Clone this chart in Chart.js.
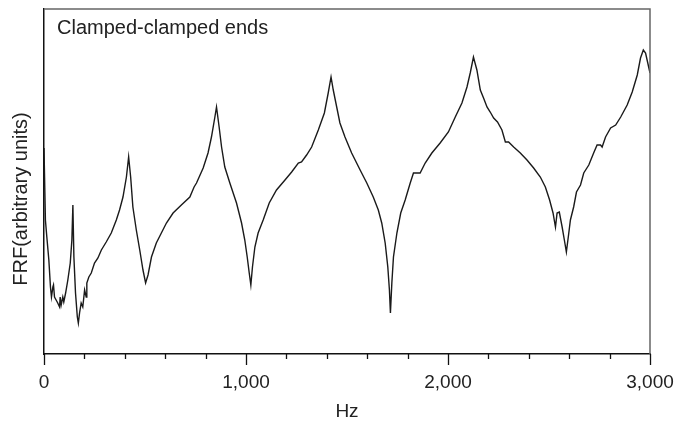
<!DOCTYPE html>
<html>
<head>
<meta charset="utf-8">
<script src="https://cdn.jsdelivr.net/npm/chart.js@4/dist/chart.umd.min.js"></script>
<style>
  html, body { margin: 0; padding: 0; background: #fff; }
  #wrap { width: 676px; height: 423px; }
</style>
</head>
<body>
<div id="wrap"><canvas id="frfChart" width="676" height="423"></canvas></div>
<script>
// frequency (Hz) and response level (arbitrary units)
var freqs = [0, 7, 14, 24, 32, 37, 44, 47, 52, 60, 68, 77, 80, 85, 93, 98, 107, 118, 130, 138,
  143, 148, 156, 165, 170, 176, 184, 192, 201, 209, 212, 222, 234, 250, 267, 284, 308, 333, 358, 374,
  391, 408, 419, 429, 440, 457, 474, 490, 503, 515, 532, 556, 581, 606, 639, 680, 722, 743, 755, 788,
  812, 829, 846, 854, 867, 879, 895, 920, 953, 978, 994, 1006, 1016, 1024, 1032, 1044, 1060, 1085, 1115, 1151,
  1193, 1226, 1259, 1275, 1300, 1325, 1358, 1388, 1407, 1421, 1432, 1449, 1465, 1490, 1523, 1565, 1598, 1630, 1655, 1672,
  1689, 1702, 1710, 1715, 1722, 1730, 1747, 1766, 1788, 1813, 1829, 1842, 1862, 1887, 1920, 1961, 2002, 2036, 2069, 2094,
  2110, 2126, 2143, 2160, 2176, 2193, 2209, 2226, 2245, 2267, 2284, 2300, 2325, 2358, 2391, 2424, 2457, 2482, 2503, 2520,
  2532, 2540, 2551, 2565, 2576, 2586, 2598, 2606, 2622, 2636, 2656, 2672, 2697, 2721, 2738, 2755, 2763, 2780, 2805, 2830,
  2855, 2887, 2912, 2937, 2953, 2967, 2978, 2989, 3000];
var levels = [206, 134, 117, 94, 67, 57, 67, 69, 57, 54, 51, 47, 57, 49, 57, 52, 61, 74, 91, 114,
  149, 97, 61, 37, 31, 41, 51, 47, 64, 57, 71, 77, 81, 91, 96, 104, 112, 121, 134, 144,
  157, 177, 197, 177, 147, 124, 104, 84, 71, 79, 97, 111, 121, 131, 141, 149, 157, 167, 171, 186,
  201, 217, 237, 247, 227, 207, 187, 171, 151, 131, 114, 97, 81, 69, 87, 107, 121, 134, 151, 164,
  174, 182, 191, 192, 199, 207, 224, 241, 261, 277, 264, 247, 231, 217, 201, 184, 171, 157, 144, 131,
  111, 87, 64, 41, 71, 97, 121, 141, 154, 171, 181, 181, 181, 191, 201, 211, 222, 237, 251, 267,
  281, 297, 284, 264, 256, 247, 242, 236, 232, 224, 212, 212, 207, 201, 194, 186, 177, 167, 154, 141,
  127, 141, 142, 127, 114, 102, 121, 134, 147, 162, 169, 181, 189, 201, 209, 209, 207, 217, 226, 229,
  237, 249, 262, 279, 296, 304, 301, 291, 281];
var majorTicks = [0, 1000, 2000, 3000];
var minorStep = 200;

var points = freqs.map(function (f, i) { return { x: f, y: levels[i] }; });

var textColor = '#222';
var fontFamily = '"Liberation Sans", Arial, Helvetica, sans-serif';

var extras = {
  id: 'extras',
  afterDraw: function (chart) {
    var c = chart.ctx, a = chart.chartArea, xs = chart.scales.x;
    c.save();
    // top and right frame lines
    c.strokeStyle = '#666';
    c.lineWidth = 1.5;
    c.beginPath();
    c.moveTo(a.left, a.top);
    c.lineTo(a.right, a.top);
    c.lineTo(a.right, a.bottom);
    c.stroke();
    // tick marks on the x axis
    c.strokeStyle = '#111';
    c.lineWidth = 1.3;
    for (var v = 0; v <= 3000; v += minorStep) {
      var px = Math.round(xs.getPixelForValue(v)) + 0.5;
      var len = majorTicks.indexOf(v) >= 0 ? 11 : 5;
      c.beginPath();
      c.moveTo(px, a.bottom);
      c.lineTo(px, a.bottom + len);
      c.stroke();
    }
    // panel label
    c.fillStyle = textColor;
    c.font = '20px ' + fontFamily;
    c.textBaseline = 'alphabetic';
    c.textAlign = 'left';
    c.fillText('Clamped-clamped ends', a.left + 13, 34);
    // y axis title
    c.translate(21, 199);
    c.rotate(-Math.PI / 2);
    c.textAlign = 'center';
    c.textBaseline = 'middle';
    c.fillText('FRF(arbitrary units)', 0, 0);
    c.restore();
  }
};

new Chart(document.getElementById('frfChart').getContext('2d'), {
  type: 'line',
  data: {
    datasets: [{
      data: points,
      borderColor: '#1a1a1a',
      borderWidth: 1.4,
      pointRadius: 0,
      tension: 0,
      fill: false
    }]
  },
  options: {
    responsive: false,
    animation: false,
    layout: { padding: { top: 9, right: 26, left: 0, bottom: 0 } },
    plugins: { legend: { display: false }, tooltip: { enabled: false } },
    scales: {
      x: {
        type: 'linear',
        min: 0,
        max: 3000,
        afterBuildTicks: function (scale) {
          scale.ticks = majorTicks.map(function (v) { return { value: v }; });
        },
        afterFit: function (scale) {
          scale.height = 69;
          scale.paddingLeft = 0;
          scale.paddingRight = 0;
        },
        ticks: {
          color: textColor,
          padding: 17,
          maxRotation: 0,
          font: { size: 19, family: fontFamily },
          callback: function (v) { return Number(v).toLocaleString('en-US'); }
        },
        grid: { display: false, drawTicks: false },
        border: { display: true, color: '#111', width: 1.5 },
        title: {
          display: true,
          text: 'Hz',
          color: textColor,
          font: { size: 19, family: fontFamily },
          padding: { top: 2, bottom: 0 }
        }
      },
      y: {
        min: 0,
        max: 345,
        afterFit: function (scale) { scale.width = 44; },
        ticks: { display: false },
        grid: { display: false, drawTicks: false },
        border: { display: true, color: '#111', width: 1.5 }
      }
    }
  },
  plugins: [extras]
});
</script>
</body>
</html>
